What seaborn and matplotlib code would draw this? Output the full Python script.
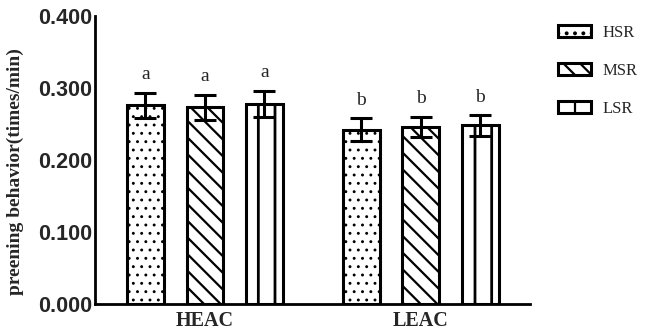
import matplotlib
matplotlib.use("Agg")
import matplotlib.pyplot as plt
from matplotlib.patches import Patch
import numpy as np
import pandas as pd
import seaborn as sns

# Mean preening rate and error per stocking-rate treatment
groups = ["HEAC", "LEAC"]
treatments = ["HSR", "MSR", "LSR"]
means = {
    "HSR": [0.276, 0.242],
    "MSR": [0.273, 0.246],
    "LSR": [0.278, 0.248],
}
errors = {
    "HSR": [0.017, 0.016],
    "MSR": [0.017, 0.014],
    "LSR": [0.018, 0.014],
}
letters = {
    "HSR": ["a", "b"],
    "MSR": ["a", "b"],
    "LSR": ["a", "b"],
}
yticks = [0.0, 0.1, 0.2, 0.3, 0.4]

rows = []
for t in treatments:
    for g, m, e, l in zip(groups, means[t], errors[t], letters[t]):
        rows.append({"group": g, "treatment": t, "value": m, "err": e, "letter": l})
df = pd.DataFrame(rows)

sns.set_style("white")
plt.rcParams["hatch.linewidth"] = 1.6
plt.rcParams["hatch.color"] = "black"

fig = plt.figure(figsize=(6.51, 3.33), dpi=100)
ax = fig.add_axes([0.146, 0.087, 0.668, 0.865])

sns.barplot(data=df, x="group", y="value", hue="treatment",
            order=groups, hue_order=treatments,
            palette=["white"] * 3, edgecolor="black", linewidth=2.2,
            errorbar=None, width=0.826, gap=0.38, legend=False, ax=ax)

hatches = {"HSR": "..", "MSR": "\\\\", "LSR": "|"}
hatch_lw = {"HSR": 0.9, "MSR": 1.6, "LSR": 2.0}
for t, cont in zip(treatments, ax.containers):
    sub = df[df["treatment"] == t].set_index("group").loc[groups]
    xs = []
    for bar in cont:
        bar.set_hatch(hatches[t])
        if hasattr(bar, "set_hatch_linewidth"):
            bar.set_hatch_linewidth(hatch_lw[t])
        bar.set_facecolor("white")
        bar.set_edgecolor("black")
        xs.append(bar.get_x() + bar.get_width() / 2)
    ax.errorbar(xs, sub["value"], yerr=sub["err"], fmt="none",
                ecolor="black", elinewidth=2.2, capsize=8, capthick=2.2,
                zorder=5)
    for x, v, e, l in zip(xs, sub["value"], sub["err"], sub["letter"]):
        ax.annotate(l, (x, v + e), xytext=(0, 7), textcoords="offset points",
                    ha="center", va="bottom", fontsize=14,
                    family="Liberation Serif")

ax.set_xlim(-0.509, 1.505)
ax.set_ylim(0, 0.4)
ax.set_yticks(yticks)
ax.set_yticklabels([f"{v:.3f}" for v in yticks], fontsize=15.5,
                   fontweight="bold", family="Liberation Sans")
ax.set_xticks(range(len(groups)))
ax.set_xticklabels(groups, fontsize=14.5, fontweight="bold",
                   family="Liberation Serif")
ax.tick_params(axis="y", length=0, pad=2)
ax.tick_params(axis="x", length=0, pad=5)
ax.set_xlabel("")
ax.set_ylabel("preening behavior(times/min)", fontsize=14,
              fontweight="bold", family="Liberation Serif")
ax.yaxis.set_label_coords(-0.163, 0.46)

for side in ["top", "right"]:
    ax.spines[side].set_visible(False)
for side in ["left", "bottom"]:
    ax.spines[side].set_linewidth(2)
    ax.spines[side].set_color("black")

handles = [Patch(facecolor="white", edgecolor="black", linewidth=2.2,
                 hatch=hatches[t], label=t) for t in treatments]
fig.legend(handles=handles, loc="upper left", bbox_to_anchor=(0.834, 0.97),
           frameon=False, prop={"family": "Liberation Serif", "size": 12},
           handlelength=2.0, handleheight=0.7, handletextpad=0.7,
           labelspacing=1.32)

fig.savefig("out.png", dpi=100)
